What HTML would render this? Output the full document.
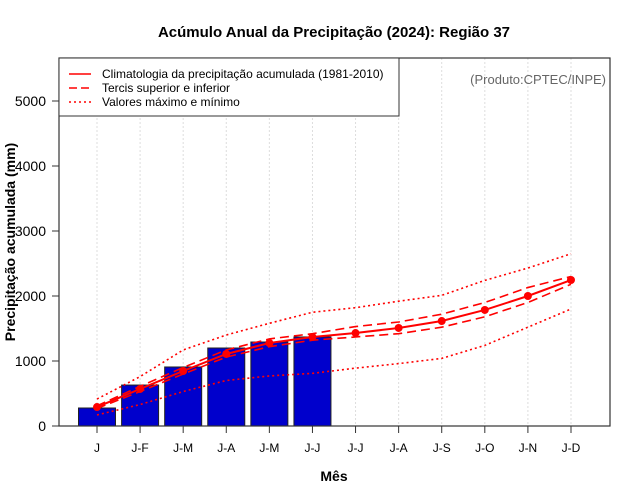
<!DOCTYPE html>
<html><head><meta charset="utf-8"><style>
body{margin:0;background:#fff;}
svg{display:block;font-family:"Liberation Sans",sans-serif;}
</style></head><body>
<svg id="chart" width="640" height="500">
<text x="334" y="37" text-anchor="middle" font-size="15" font-weight="bold">Acúmulo Anual da Precipitação (2024): Região 37</text>
<text x="334" y="481" text-anchor="middle" font-size="14" font-weight="bold">Mês</text>
<text transform="translate(15,242) rotate(-90)" text-anchor="middle" font-size="14" font-weight="bold">Precipitação acumulada (mm)</text>
<g id="grid"></g><g id="bars"></g><g id="lines"></g><g id="axes"></g>
<rect x="59" y="58" width="551" height="368" fill="none" stroke="#333" stroke-width="1.2"/>
<g>
<rect x="59" y="58" width="340" height="58" fill="#fff" stroke="#333"/>
<line x1="69" y1="74" x2="91" y2="74" stroke="red" stroke-width="1.5"/>
<text x="102" y="78" font-size="12">Climatologia da precipitação acumulada (1981-2010)</text>
<line x1="69" y1="88" x2="91" y2="88" stroke="red" stroke-width="1.5" stroke-dasharray="8,4"/>
<text x="102" y="92" font-size="12">Tercis superior e inferior</text>
<line x1="69" y1="102" x2="91" y2="102" stroke="red" stroke-width="1.5" stroke-dasharray="2,3"/>
<text x="102" y="106" font-size="12">Valores máximo e mínimo</text>
</g>
<text x="606" y="84" text-anchor="end" font-size="13" fill="#666">(Produto:CPTEC/INPE)</text>
</svg>
<script>
const categories=["J","J-F","J-M","J-A","J-M","J-J","J-J","J-A","J-S","J-O","J-N","J-D"];
const observed=[277,630,908,1200,1292,1370];
const climatology=[292,570,846,1108,1277,1370,1430,1508,1615,1785,2000,2246];
const upperTercile=[310,610,900,1170,1340,1420,1530,1600,1720,1900,2130,2300];
const lowerTercile=[270,530,800,1060,1220,1320,1370,1420,1520,1680,1900,2180];
const maxValues=[415,760,1170,1400,1580,1750,1820,1920,2010,2240,2430,2650];
const minValues=[170,330,530,700,770,810,890,960,1040,1240,1520,1800];
const yTicks=[0,1000,2000,3000,4000,5000];
const NS="http://www.w3.org/2000/svg";
const xs=i=>97+i*43.09;
const ys=v=>426-v*0.065;
function mk(tag,attrs,parent){const e=document.createElementNS(NS,tag);for(const k in attrs)e.setAttribute(k,attrs[k]);document.getElementById(parent).appendChild(e);return e;}
categories.forEach((c,i)=>{
 const g=mk("line",{x1:xs(i),x2:xs(i),y1:58,y2:426,stroke:"#ddd","stroke-dasharray":"2,2"},"grid");
 
 
 const t=mk("line",{x1:xs(i),x2:xs(i),y1:426,y2:433,stroke:"#333"},"axes");
 
 
 const l=mk("text",{x:xs(i),y:452,"text-anchor":"middle","font-size":"12"},"axes");l.textContent=c;
 
 
});
yTicks.forEach(v=>{
 const t=mk("line",{x1:52,x2:59,y1:ys(v),y2:ys(v),stroke:"#333"},"axes");
 
 
 const l=mk("text",{x:46,y:ys(v)+5,"text-anchor":"end","font-size":"14"},"axes");l.textContent=v;
 
 
});
observed.forEach((v,i)=>{
 const b=mk("rect",{x:xs(i)-18.5,y:ys(v),width:37,height:426-ys(v),fill:"#0000cc",stroke:"#222","stroke-width":"1"},"bars");
 
 
});
function line(arr,dash,name,w){
 const p=mk("polyline",{points:arr.map((v,i)=>xs(i)+","+ys(v)).join(" "),fill:"none",stroke:"red","stroke-width":w,"stroke-dasharray":dash},"lines");
 
 
}
line(maxValues,"2,3","max-line",1.6);
line(minValues,"2,3","min-line",1.6);
line(upperTercile,"9,5","upper-tercile-line",1.6);
line(lowerTercile,"9,5","lower-tercile-line",1.6);
line(climatology,"none","climatology-line",2);
climatology.forEach((v,i)=>{
 const c=mk("circle",{cx:xs(i),cy:ys(v),r:4,fill:"red"},"lines");
 
 
});
</script>
</body></html>
